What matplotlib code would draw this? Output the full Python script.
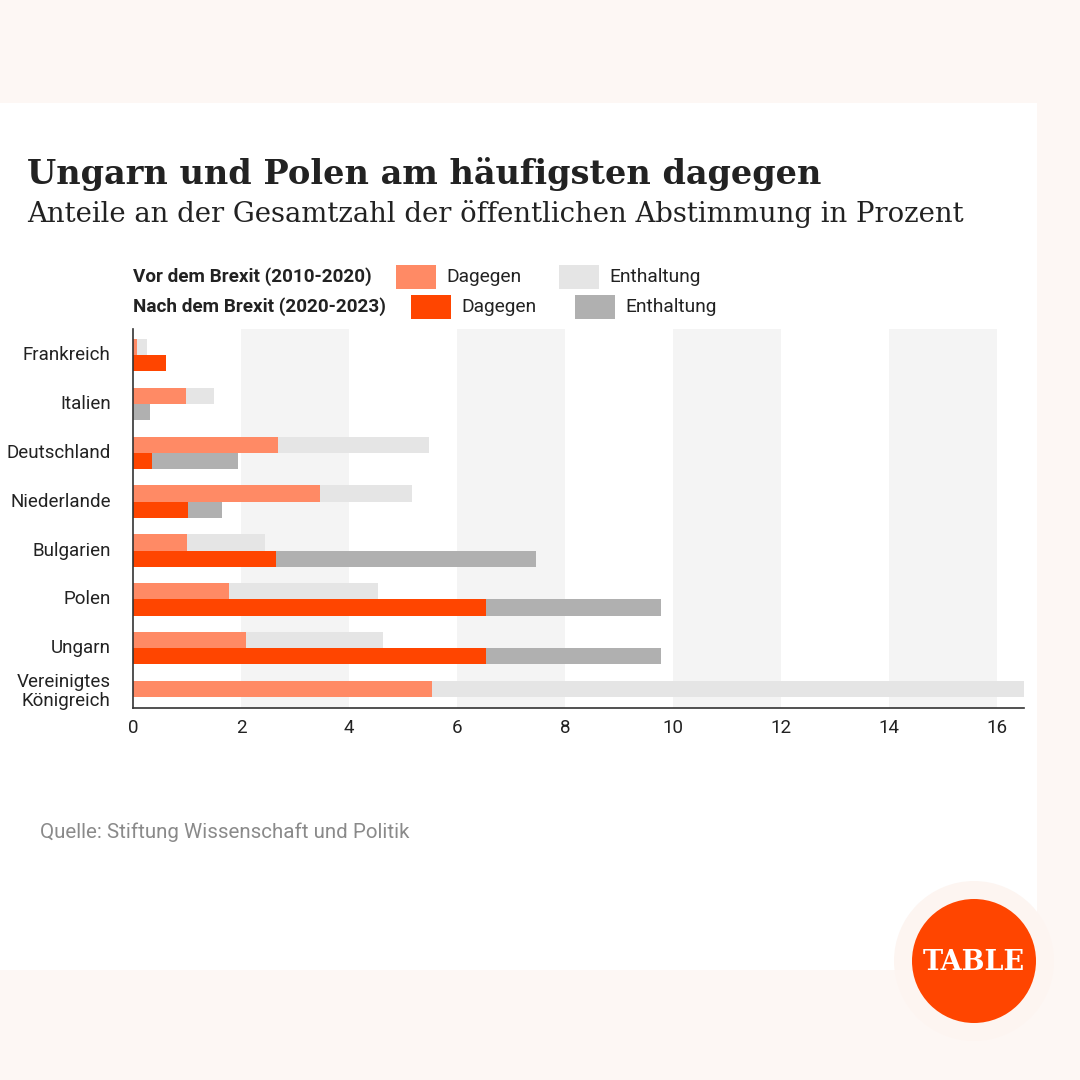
import matplotlib
matplotlib.use("Agg")
import matplotlib.pyplot as plt
from matplotlib.patches import Rectangle, Circle
import numpy as np

# --- data (Prozent) ---
countries = ["Frankreich", "Italien", "Deutschland", "Niederlande",
             "Bulgarien", "Polen", "Ungarn", "Vereinigtes\nKönigreich"]
vor_dagegen = [0.08, 0.99, 2.68, 3.47, 1.00, 1.78, 2.10, 5.53]
vor_enthaltung = [0.17, 0.51, 2.80, 1.70, 1.44, 2.76, 2.53, 10.97]
nach_dagegen = [0.62, 0.0, 0.36, 1.02, 2.64, 6.53, 6.53, np.nan]
nach_enthaltung = [0.0, 0.32, 1.58, 0.63, 4.82, 3.24, 3.24, np.nan]
x_ticks = [0, 2, 4, 6, 8, 10, 12, 14, 16]

C_VOR_D = "#ff8a65"
C_VOR_E = "#e5e5e5"
C_NACH_D = "#ff4500"
C_NACH_E = "#b0b0b0"
BG = "#fdf7f4"
TEXT = "#222222"

W = H = 1080


def fx(x):
    return x / W


def fy(y):
    return 1 - y / H


fig = plt.figure(figsize=(10.8, 10.8), dpi=100, facecolor=BG)

# white card
fig.add_artist(Rectangle((0, fy(970)), fx(1037), (970 - 103) / H,
                         transform=fig.transFigure, facecolor="white",
                         edgecolor="none", zorder=0))

fig.text(fx(27), fy(174), "Ungarn und Polen am häufigsten dagegen",
         family="DejaVu Serif", fontweight="bold", fontsize=24.2,
         color=TEXT, va="center", ha="left")
fig.text(fx(27), fy(214), "Anteile an der Gesamtzahl der öffentlichen Abstimmung in Prozent",
         family="DejaVu Serif", fontsize=19.8, color=TEXT, va="center", ha="left")

# plot area
ax = fig.add_axes([fx(133), fy(708), fx(1024) - fx(133), (708 - 329) / H])
ax.set_facecolor("none")

n = len(countries)
y = np.arange(n)
bh = 0.33
off = bh / 2

for lo in range(2, 16, 4):
    ax.axvspan(lo, lo + 2, color="#f4f4f4", zorder=0, lw=0)

vd = np.array(vor_dagegen)
ve = np.array(vor_enthaltung)
nd = np.array(nach_dagegen)
ne = np.array(nach_enthaltung)

ax.barh(y - off, vd, height=bh, color=C_VOR_D, zorder=2)
ax.barh(y - off, ve, left=vd, height=bh, color=C_VOR_E, zorder=2)
ax.barh(y + off, nd, height=bh, color=C_NACH_D, zorder=2)
ax.barh(y + off, ne, left=nd, height=bh, color=C_NACH_E, zorder=2)

ax.set_xlim(0, 16.5)
ax.set_ylim(7.22, -0.53)
ax.set_xticks(x_ticks)
ax.set_xticklabels([str(t) for t in x_ticks], family="Roboto", fontsize=13.5, color=TEXT)

label_pos = [yi - 0.04 if not np.isnan(nd[i]) else yi - off for i, yi in enumerate(y)]
ax.set_yticks(label_pos)
ax.set_yticklabels(countries, family="Roboto", fontsize=13.5, color=TEXT, linespacing=1.05)
ax.tick_params(axis="both", length=0)
ax.tick_params(axis="y", pad=16)
ax.tick_params(axis="x", pad=8)
for s in ("top", "right"):
    ax.spines[s].set_visible(False)
for s in ("left", "bottom"):
    ax.spines[s].set_color("#333333")
    ax.spines[s].set_linewidth(1.2)

# legend
legend_rows = [
    (277, "Vor dem Brexit (2010-2020)", [(396, C_VOR_D, "Dagegen"), (559, C_VOR_E, "Enthaltung")]),
    (307, "Nach dem Brexit (2020-2023)", [(411, C_NACH_D, "Dagegen"), (575, C_NACH_E, "Enthaltung")]),
]
for yy, head, items in legend_rows:
    fig.text(fx(133), fy(yy), head, family="Roboto", fontweight="bold",
             fontsize=13.6, color=TEXT, va="center", ha="left")
    for x0, col, lab in items:
        fig.add_artist(Rectangle((fx(x0), fy(yy + 12)), 40 / W, 24 / H,
                                 transform=fig.transFigure, facecolor=col,
                                 edgecolor="none"))
        fig.text(fx(x0 + 50), fy(yy), lab, family="Roboto", fontsize=13.8,
                 color=TEXT, va="center", ha="left")

fig.text(fx(40), fy(832), "Quelle: Stiftung Wissenschaft und Politik",
         family="Roboto", fontsize=14.8, color="#8a8a8a", va="center", ha="left")

# logo
fig.add_artist(Circle((fx(974), fy(961)), 80 / W, transform=fig.transFigure,
                      facecolor="#fdf5f1", edgecolor="none"))
fig.add_artist(Circle((fx(974), fy(961)), 62 / W, transform=fig.transFigure,
                      facecolor="#ff4500", edgecolor="none"))
fig.text(fx(974), fy(962), "TABLE", family="DejaVu Serif", fontweight="bold",
         fontsize=19.5, color="white", ha="center", va="center")

fig.savefig("out.png", dpi=100, facecolor=BG)
